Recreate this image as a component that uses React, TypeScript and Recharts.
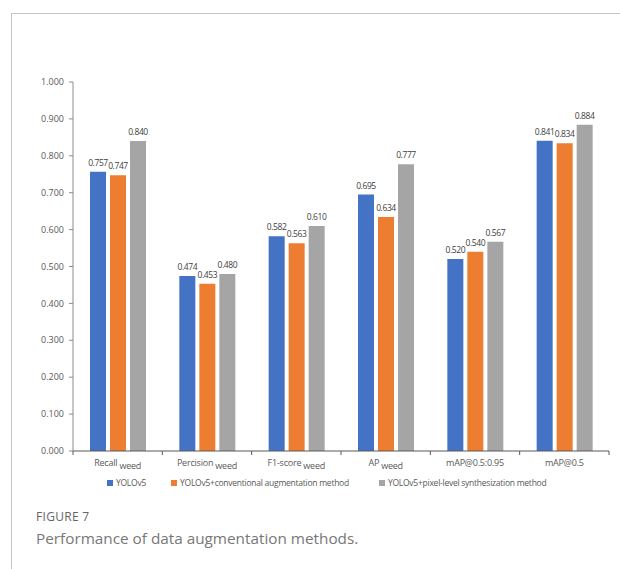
import { Bar, BarChart, LabelList, XAxis, YAxis } from 'recharts'

const categories = ['Recall', 'Percision', 'F1-score', 'AP', 'mAP@0.5:0.95', 'mAP@0.5']
const subscripts = ['weed', 'weed', 'weed', 'weed', '', '']
const yolov5 = [0.757, 0.474, 0.582, 0.695, 0.52, 0.841]
const conventional = [0.747, 0.453, 0.563, 0.634, 0.54, 0.834]
const pixelLevel = [0.84, 0.48, 0.61, 0.777, 0.567, 0.884]
const yTicks = [0, 0.1, 0.2, 0.3, 0.4, 0.5, 0.6, 0.7, 0.8, 0.9, 1.0]

const series = [
  { key: 'yolov5', name: 'YOLOv5', color: '#4472C4' },
  { key: 'conventional', name: 'YOLOv5+conventional augmentation method', color: '#ED7D31' },
  { key: 'pixel', name: 'YOLOv5+pixel-level synthesization method', color: '#A5A5A5' },
]

const data = categories.map((c, i) => ({
  name: c,
  sub: subscripts[i],
  yolov5: yolov5[i],
  conventional: conventional[i],
  pixel: pixelLevel[i],
}))

const FONT = '"Open Sans", "Noto Sans", sans-serif'
const PLOT_W = 536
const BAND = PLOT_W / categories.length

const CategoryTick = (props: any) => {
  const { x, y, payload, index } = props
  const d = data[payload.index ?? index]
  return (
    <g>
      <line x1={x - BAND / 2} y1={y - 8} x2={x - BAND / 2} y2={y - 4} stroke="#595959" />
      {index === categories.length - 1 && (
        <line x1={x + BAND / 2} y1={y - 8} x2={x + BAND / 2} y2={y - 4} stroke="#595959" />
      )}
      <text x={x} y={y + 7} textAnchor="middle" fontSize={9} fill="#595959" fontFamily={FONT} letterSpacing={-0.2}>
        {d.name}
        {d.sub && (
          <tspan dx={2} dy={3}>
            {d.sub}
          </tspan>
        )}
      </text>
    </g>
  )
}

export default function App() {
  return (
    <div style={{ position: 'absolute', left: 0, top: 0, width: 620, height: 569, background: '#fff', overflow: 'hidden' }}>
      <div
        style={{
          position: 'absolute',
          left: 11,
          top: 13,
          width: 640,
          height: 600,
          borderLeft: '1px solid #c4c4c4',
          borderTop: '1px solid #c4c4c4',
        }}
      />
      <div style={{ position: 'absolute', left: 0, top: 0 }}>
        <BarChart
          width={620}
          height={500}
          data={data}
          margin={{ top: 82, right: 11, left: 0, bottom: 0 }}
          barSize={16}
          barGap={4}
        >
          <XAxis
            dataKey="name"
            height={49}
            tickLine={false}
            axisLine={{ stroke: '#595959' }}
            tick={<CategoryTick />}
            interval={0}
          />
          <YAxis
            width={73}
            domain={[0, 1]}
            ticks={yTicks}
            tickFormatter={(v: number) => v.toFixed(3)}
            tick={{ fontSize: 9, fill: '#595959', fontFamily: FONT }}
            tickSize={4}
            tickMargin={5}
            axisLine={{ stroke: '#8c8c8c' }}
            tickLine={{ stroke: '#8c8c8c' }}
          />
          {series.map((s) => (
            <Bar key={s.key} dataKey={s.key} name={s.name} fill={s.color} isAnimationActive={false}>
              <LabelList
                dataKey={s.key}
                position="top"
                offset={6}
                formatter={(v: any) => Number(v).toFixed(3)}
                style={{ fontSize: 8.5, fill: '#404040', fontFamily: FONT, letterSpacing: -0.4 }}
              />
            </Bar>
          ))}
        </BarChart>
      </div>
      <div
        style={{
          position: 'absolute',
          left: 107,
          top: 477,
          display: 'flex',
          fontFamily: FONT,
          fontSize: 8.5,
          letterSpacing: -0.25,
          color: '#595959',
          whiteSpace: 'nowrap',
        }}
      >
        {series.map((s, i) => (
          <div key={s.key} style={{ display: 'flex', alignItems: 'center', marginRight: i === 0 ? 25 : 30 }}>
            <span style={{ width: 6, height: 6, background: s.color, marginRight: 3, display: 'inline-block' }} />
            {s.name}
          </div>
        ))}
      </div>
      <div style={{ position: 'absolute', left: 36, top: 508, fontFamily: FONT, fontSize: 12, color: '#666', letterSpacing: 0.3 }}>
        FIGURE 7
      </div>
      <div style={{ position: 'absolute', left: 36, top: 528, fontFamily: FONT, fontSize: 15.3, color: '#777' }}>
        Performance of data augmentation methods.
      </div>
    </div>
  )
}
